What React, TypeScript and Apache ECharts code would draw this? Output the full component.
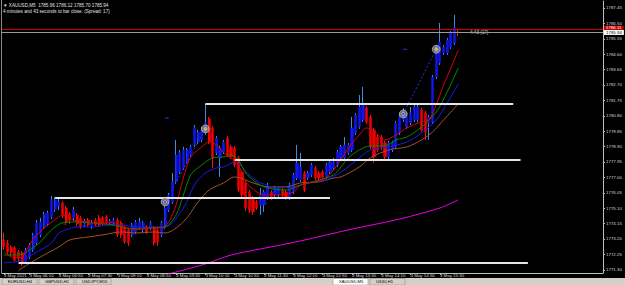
import React, { useEffect, useRef } from "react";
import * as echarts from "echarts";

// ---------- data ----------
const timeLabels = [
  "3 May 2021", "3 May 06:10", "3 May 06:50", "3 May 07:30", "3 May 08:10", "3 May 08:50",
  "3 May 09:30", "3 May 10:10", "3 May 10:50", "3 May 11:30", "3 May 12:10", "3 May 12:50",
  "3 May 13:30", "3 May 14:10", "3 May 14:50", "3 May 15:30",
];
const labelSlots = [0, 7, 15, 23, 31, 39, 47, 55, 63, 71, 79, 87, 95, 103, 111, 119];
const slotCount = 164;

const priceTicks = [
  1771.3, 1772.25, 1773.2, 1774.15, 1775.1, 1776.05, 1777.0, 1777.95, 1778.9,
  1779.85, 1780.8, 1781.75, 1782.7, 1783.65, 1784.6, 1785.55, 1786.5, 1787.45,
];

const opens = [
  1773.14, 1772.95, 1772.71, 1772.65, 1772.40, 1772.34, 1771.78, 1772.09, 1772.52, 1772.95,
  1773.45, 1773.94, 1774.13, 1774.56, 1774.99, 1775.24, 1775.42, 1775.11, 1774.74, 1774.50,
  1774.68, 1774.50, 1774.06, 1774.37, 1773.94, 1774.37, 1774.50, 1774.50, 1774.56, 1774.19,
  1774.19, 1774.37, 1774.19, 1773.88, 1773.76, 1773.45, 1773.63, 1773.88, 1773.76, 1773.94,
  1773.88, 1773.88, 1773.76, 1773.45, 1773.94, 1774.99, 1775.48, 1776.72, 1777.33, 1777.58,
  1777.95, 1778.38, 1779.00, 1779.18, 1779.31, 1779.74, 1780.60, 1780.05, 1778.51, 1778.20,
  1778.57, 1779.43, 1778.88, 1778.81, 1778.20, 1777.33, 1776.66, 1776.10, 1775.73, 1775.48,
  1775.30, 1775.30, 1775.73, 1776.10, 1775.91, 1775.97, 1776.22, 1776.10, 1775.73, 1776.10,
  1776.96, 1776.84, 1777.27, 1776.96, 1777.15, 1777.58, 1777.27, 1777.33, 1777.03, 1777.33,
  1777.58, 1777.77, 1778.20, 1778.20, 1778.51, 1778.69, 1779.74, 1780.11, 1780.54, 1781.28,
  1780.73, 1779.92, 1779.49, 1779.49, 1779.12, 1778.26, 1778.69, 1778.88, 1779.74, 1780.54,
  1780.11, 1780.36, 1780.54, 1780.54, 1781.16, 1780.97, 1780.36, 1780.42, 1783.19, 1784.06,
  1784.67, 1784.67, 1785.04, 1785.29, 1785.96,
];
const closes = [
  1772.71, 1772.40, 1772.34, 1771.90, 1772.03, 1771.72, 1772.52, 1772.83, 1773.45, 1774.19,
  1774.25, 1774.74, 1774.80, 1775.61, 1775.61, 1775.48, 1774.68, 1774.25, 1774.37, 1774.99,
  1774.13, 1773.94, 1774.31, 1774.06, 1774.25, 1774.06, 1774.06, 1774.19, 1774.25, 1774.31,
  1774.37, 1773.45, 1773.45, 1773.02, 1772.95, 1774.06, 1774.25, 1774.25, 1774.19, 1773.63,
  1774.19, 1772.95, 1773.02, 1774.19, 1775.11, 1775.91, 1776.72, 1778.38, 1778.51, 1778.69,
  1778.69, 1778.88, 1780.05, 1779.80, 1779.92, 1780.36, 1779.18, 1778.20, 1779.43, 1778.81,
  1779.18, 1778.38, 1778.26, 1777.77, 1776.22, 1775.91, 1775.11, 1774.99, 1774.87, 1775.11,
  1775.91, 1776.10, 1776.53, 1775.73, 1776.35, 1776.29, 1775.91, 1775.73, 1776.53, 1777.15,
  1777.89, 1777.64, 1776.22, 1777.27, 1777.77, 1776.96, 1776.96, 1777.03, 1777.77, 1777.95,
  1777.95, 1778.57, 1778.88, 1779.00, 1779.00, 1780.05, 1780.85, 1781.34, 1781.47, 1780.42,
  1778.88, 1778.26, 1778.69, 1778.88, 1778.26, 1779.12, 1779.12, 1780.36, 1780.73, 1780.97,
  1780.73, 1780.97, 1781.34, 1781.34, 1779.92, 1779.80, 1780.73, 1783.19, 1785.04, 1785.35,
  1785.04, 1785.48, 1785.91, 1786.22, 1785.94,
];
const lows = [
  1772.52, 1772.28, 1772.09, 1771.78, 1771.84, 1771.54, 1771.66, 1771.97, 1772.40, 1772.83,
  1773.32, 1773.82, 1774.00, 1774.43, 1774.87, 1774.99, 1774.50, 1774.06, 1774.13, 1774.31,
  1774.00, 1773.82, 1773.94, 1773.94, 1773.82, 1774.00, 1773.94, 1774.06, 1774.13, 1774.06,
  1774.06, 1773.32, 1773.26, 1772.89, 1772.77, 1773.32, 1773.51, 1773.76, 1773.63, 1773.51,
  1773.76, 1772.83, 1772.77, 1773.32, 1773.82, 1774.87, 1775.36, 1776.59, 1777.21, 1777.46,
  1777.83, 1778.26, 1778.88, 1779.06, 1779.18, 1779.62, 1779.06, 1777.58, 1778.38, 1777.03,
  1778.44, 1778.26, 1778.14, 1777.64, 1776.10, 1775.73, 1774.93, 1774.80, 1774.68, 1774.99,
  1774.68, 1774.87, 1775.61, 1775.61, 1775.79, 1775.79, 1775.79, 1775.61, 1775.61, 1775.97,
  1776.84, 1776.72, 1776.10, 1776.84, 1777.03, 1776.84, 1776.84, 1776.90, 1776.90, 1777.21,
  1777.46, 1777.64, 1778.07, 1778.07, 1778.38, 1778.57, 1779.62, 1779.99, 1780.42, 1780.29,
  1778.75, 1777.89, 1778.57, 1778.69, 1778.07, 1778.07, 1778.57, 1778.75, 1779.62, 1780.42,
  1779.99, 1780.23, 1780.42, 1780.42, 1779.80, 1779.31, 1779.31, 1780.29, 1783.07, 1783.93,
  1784.55, 1784.55, 1784.92, 1785.17, 1785.70,
];
const highs = [
  1773.57, 1773.14, 1772.83, 1772.77, 1772.52, 1772.46, 1772.65, 1772.95, 1773.57, 1774.37,
  1774.50, 1774.87, 1774.93, 1775.85, 1775.79, 1775.67, 1775.54, 1775.24, 1774.87, 1775.17,
  1774.80, 1774.62, 1774.43, 1774.50, 1774.37, 1774.50, 1774.68, 1774.62, 1774.68, 1774.43,
  1774.50, 1774.50, 1774.31, 1774.00, 1773.88, 1774.19, 1774.37, 1774.50, 1774.31, 1774.06,
  1774.31, 1774.00, 1773.88, 1774.31, 1775.24, 1776.04, 1777.27, 1779.31, 1778.69, 1778.88,
  1778.81, 1779.00, 1780.23, 1779.92, 1780.11, 1781.53, 1780.73, 1780.17, 1779.55, 1778.94,
  1779.31, 1779.55, 1779.00, 1778.94, 1778.32, 1777.46, 1776.78, 1776.22, 1775.85, 1775.61,
  1776.35, 1776.22, 1776.66, 1776.22, 1776.47, 1776.41, 1776.35, 1776.22, 1776.66, 1777.27,
  1779.00, 1778.51, 1777.39, 1777.39, 1777.89, 1777.70, 1777.39, 1777.46, 1777.89, 1778.07,
  1778.20, 1778.69, 1779.00, 1779.49, 1779.12, 1780.73, 1780.97, 1782.08, 1782.58, 1781.40,
  1780.85, 1780.05, 1779.62, 1779.62, 1779.25, 1779.25, 1779.25, 1780.48, 1780.85, 1781.28,
  1780.85, 1781.34, 1781.47, 1781.59, 1781.28, 1781.10, 1780.85, 1783.32, 1785.17, 1786.53,
  1785.17, 1785.60, 1786.03, 1787.02, 1786.12,
];

// moving averages: [bar index, price]
const maRed: [number, number][] = [
  [0, 1772.40], [3, 1772.03], [5, 1772.09], [7, 1772.83], [9, 1773.45], [12, 1774.06],
  [15, 1774.56], [16, 1774.68], [19, 1774.37], [23, 1774.25], [26, 1774.19], [30, 1774.19],
  [32, 1774.00], [36, 1773.76], [39, 1773.88], [43, 1773.88], [45, 1774.25], [47, 1775.30],
  [49, 1776.96], [51, 1778.26], [54, 1778.88], [56, 1779.18], [58, 1779.00], [60, 1778.51],
  [62, 1778.20], [64, 1777.77], [66, 1776.72], [69, 1776.10], [71, 1775.91], [75, 1775.91],
  [79, 1776.10], [81, 1776.53], [85, 1776.72], [88, 1776.96], [92, 1778.07], [94, 1778.81],
  [97, 1779.62], [99, 1780.05], [101, 1779.86], [104, 1779.31], [107, 1779.62], [110, 1780.05],
  [114, 1780.42], [116, 1780.54], [118, 1781.47], [120, 1782.70], [122, 1783.75], [124, 1784.86],
];
const maGreen: [number, number][] = [
  [0, 1772.21], [4, 1772.21], [7, 1772.52], [10, 1773.02], [13, 1773.76], [16, 1774.19],
  [20, 1774.25], [24, 1774.19], [30, 1774.06], [32, 1773.94], [36, 1773.82], [39, 1773.88],
  [44, 1773.94], [47, 1774.68], [49, 1775.91], [51, 1777.15], [54, 1777.77], [57, 1778.20],
  [60, 1778.26], [62, 1778.38], [64, 1778.07], [66, 1777.27], [69, 1776.66], [72, 1776.35],
  [77, 1776.22], [81, 1776.53], [86, 1776.84], [90, 1777.15], [92, 1777.64], [94, 1778.20],
  [97, 1778.69], [100, 1778.94], [104, 1778.94], [107, 1779.31], [110, 1779.49], [114, 1780.11],
  [118, 1781.03], [121, 1782.27], [124, 1783.75],
];
const maBlue: [number, number][] = [
  [0, 1771.72], [3, 1771.78], [5, 1771.90], [9, 1772.40], [13, 1772.95], [15, 1773.57],
  [17, 1773.76], [20, 1773.94], [24, 1773.94], [29, 1774.06], [32, 1774.06], [36, 1773.94],
  [41, 1773.94], [44, 1773.94], [49, 1775.11], [52, 1776.53], [55, 1777.27], [58, 1777.58],
  [60, 1777.64], [63, 1777.95], [67, 1777.15], [70, 1776.66], [75, 1776.35], [79, 1776.41],
  [83, 1776.66], [88, 1776.84], [92, 1777.33], [97, 1778.20], [100, 1778.69], [105, 1778.88],
  [110, 1779.18], [114, 1779.74], [118, 1780.54], [121, 1781.59], [124, 1782.76],
];
const maBrown: [number, number][] = [
  [4, 1771.23], [5, 1771.41], [10, 1772.09], [15, 1772.71], [18, 1773.14], [23, 1773.32],
  [27, 1773.45], [32, 1773.63], [36, 1773.57], [41, 1773.63], [44, 1773.57], [49, 1774.25],
  [53, 1775.48], [56, 1776.22], [60, 1776.66], [63, 1777.03], [68, 1776.66], [72, 1776.41],
  [77, 1776.41], [81, 1776.66], [86, 1776.72], [90, 1776.96], [92, 1777.03], [97, 1777.64],
  [100, 1778.20], [105, 1778.69], [110, 1778.88], [114, 1779.31], [117, 1779.80], [120, 1780.54],
  [124, 1781.53],
];
const maMagenta: [number, number][] = [
  [45, 1771.07], [47, 1771.16], [55, 1771.66], [62, 1772.21], [70, 1772.58], [81, 1773.08],
  [94, 1773.76], [108, 1774.43], [119, 1775.11], [124, 1775.61],
];

// horizontal levels drawn on the chart: price, first bar, last bar
const levels = [
  { price: 1781.53, from: 55, to: 139 },
  { price: 1778.07, from: 63, to: 141 },
  { price: 1775.73, from: 14, to: 89 },
  { price: 1771.72, from: 4, to: 143 },
];
// trade arrows: open point -> close point
const trades = [
  { open: [44, 1775.49], close: [55, 1779.99] },
  { open: [109, 1780.91], close: [118, 1784.9] },
];
const tradeMarks = [
  { at: [44, 1780.66], to: 45 },
  { at: [109, 1784.9], to: 110 },
];

const bidPrice = 1785.94;
const askPrice = 1786.11;
const headerLine1 = "▼ XAUUSD,M5  1785.96 1786.12 1785.70 1785.94";
const headerLine2 = "4 minutes and 43 seconds to bar close. (Spread: 17)";
const timerText = "4:43 (17)";
const tabNames = ["EURUSD,H4", "GBPUSD,H1", "USDJPY,M15", "XAUUSD,M5", "US30,H1"];

const FONT = "Liberation Sans";

export default function App() {
  const ref = useRef<HTMLDivElement>(null);
  useEffect(() => {
    if (!ref.current) return;
    document.body.style.margin = "0";
    const chart = echarts.init(ref.current, null, { renderer: "svg" });

    const slots = Array.from({ length: slotCount }, (_, i) => String(i));
    const labelMap: Record<number, string> = {};
    labelSlots.forEach((s, k) => (labelMap[s] = timeLabels[k]));

    const wickData = opens.map((o, i) => [o, closes[i], lows[i], highs[i]]);
    const bodyData = opens.map((o, i) => [
      o, closes[i], Math.min(o, closes[i]), Math.max(o, closes[i]),
    ]);

    const lineSeries = (data: [number, number][], color: string, w = 1) => ({
      type: "line",
      data,
      showSymbol: false,
      smooth: 0.3,
      silent: true,
      lineStyle: { color, width: w },
      z: 3,
    });

    const levelSeries = levels.map((l) => ({
      type: "line",
      data: [[l.from, l.price], [l.to, l.price]],
      showSymbol: false,
      silent: true,
      lineStyle: { color: "#e6e6e6", width: 2 },
      z: 5,
    }));
    const tradeSeries = trades.map((t) => ({
      type: "line",
      data: [t.open, t.close],
      showSymbol: false,
      silent: true,
      lineStyle: { color: "#2233e0", width: 1, type: [2, 2] },
      z: 4,
    }));
    const markSeries = tradeMarks.map((m) => ({
      type: "line",
      data: [m.at, [m.to, m.at[1]]],
      showSymbol: false,
      silent: true,
      lineStyle: { color: "#2a3aee", width: 1 },
      z: 4,
    }));

    chart.setOption({
      animation: false,
      backgroundColor: "#000000",
      textStyle: { fontFamily: FONT },
      grid: { left: 2, right: 22, top: 1, bottom: 12, outerBoundsMode: "none" },
      xAxis: {
        type: "category",
        data: slots,
        boundaryGap: true,
        axisLine: { lineStyle: { color: "#bdbdbd", width: 1 } },
        axisTick: {
          show: true,
          alignWithLabel: true,
          length: 2,
          interval: (i: number) => labelMap[i] !== undefined,
          lineStyle: { color: "#bdbdbd" },
        },
        axisLabel: {
          interval: (i: number) => labelMap[i] !== undefined,
          formatter: (_v: string, i: number) => labelMap[i] ?? "",
          color: "#d8d8d8",
          fontSize: 4.4,
          fontFamily: FONT,
          align: "left",
          margin: 0.5,
        },
        splitLine: { show: false },
      },
      yAxis: {
        type: "value",
        position: "right",
        min: 1771.1,
        max: 1787.88,
        axisLine: { show: true, lineStyle: { color: "#bdbdbd", width: 1 } },
        axisTick: { show: true, length: 2, customValues: priceTicks, lineStyle: { color: "#bdbdbd" } },
        axisLabel: {
          customValues: priceTicks,
          formatter: (v: number) => v.toFixed(2),
          color: "#d8d8d8",
          fontSize: 4.4,
          fontFamily: FONT,
          margin: 3,
        },
        splitLine: { show: false },
      },
      series: [
        {
          type: "candlestick",
          data: wickData,
          barWidth: 1,
          silent: true,
          itemStyle: {
            color: "#3a8fe0",
            color0: "#ff1010",
            borderColor: "#3a8fe0",
            borderColor0: "#ff1010",
            borderWidth: 1,
          },
          z: 1,
        },
        {
          type: "candlestick",
          data: bodyData,
          barWidth: 2.6,
          silent: true,
          itemStyle: {
            color: "#1016ee",
            color0: "#f00000",
            borderColor: "#1016ee",
            borderColor0: "#f00000",
            borderWidth: 0.5,
          },
          z: 2,
          markLine: {
            symbol: "none",
            silent: true,
            data: [
              {
                yAxis: askPrice,
                lineStyle: { color: "#d00000", width: 1, type: "solid" },
                label: {
                  position: "end",
                  distance: 1,
                  formatter: () => askPrice.toFixed(2),
                  color: "#ffffff",
                  backgroundColor: "#d00000",
                  fontSize: 4.4,
                  fontFamily: FONT,
                  padding: [0, 2],
                  offset: [0, -2],
                },
              },
              {
                yAxis: bidPrice,
                lineStyle: { color: "#9a9a9a", width: 1, type: "solid" },
                label: {
                  position: "end",
                  distance: 1,
                  formatter: () => bidPrice.toFixed(2),
                  color: "#000000",
                  backgroundColor: "#ffffff",
                  fontSize: 4.4,
                  fontFamily: FONT,
                  padding: [0.5, 2],
                },
              },
            ],
          },
        },
        lineSeries(maMagenta, "#e800e8"),
        lineSeries(maBrown, "#a0522d"),
        lineSeries(maBlue, "#1a1af0"),
        lineSeries(maGreen, "#008a00"),
        lineSeries(maRed, "#e00000"),
        ...levelSeries,
        ...tradeSeries,
        ...markSeries,
        {
          type: "scatter",
          data: [...trades.map((t) => t.open), ...trades.map((t) => t.close)],
          symbol: "circle",
          symbolSize: 8,
          silent: true,
          itemStyle: { color: "#8c8c8c", borderColor: "#c8c8c8", borderWidth: 0.8 },
          z: 6,
        },
        {
          type: "scatter",
          data: trades.map((t) => t.open),
          symbol: "circle",
          symbolSize: 3,
          silent: true,
          itemStyle: { color: "#2a4bff", borderColor: "#ffffff", borderWidth: 0.5 },
          z: 7,
        },
        {
          type: "scatter",
          data: trades.map((t) => t.close),
          symbol: "circle",
          symbolSize: 3,
          silent: true,
          itemStyle: { color: "#e8b020", borderColor: "#ffffff", borderWidth: 0.5 },
          z: 7,
        },
      ],
      graphic: [
        {
          type: "line",
          shape: { x1: 1.5, y1: 0, x2: 1.5, y2: 273 },
          style: { stroke: "#8a8a8a", lineWidth: 1 },
        },
        {
          type: "text",
          left: 3,
          top: 2.5,
          style: { text: headerLine1, fill: "#e0e0e0", fontSize: 4.6, fontFamily: FONT },
        },
        {
          type: "text",
          left: 3,
          top: 9,
          style: { text: headerLine2, fill: "#e0e0e0", fontSize: 4.6, fontFamily: FONT },
        },
        {
          type: "text",
          left: 470,
          top: 30,
          style: { text: timerText, fill: "#d0d0d0", fontSize: 4.6, fontFamily: FONT },
        },
        {
          type: "rect",
          shape: { x: 0, y: 278, width: 625, height: 7 },
          style: { fill: "#d4d0c8" },
        },
        ...tabNames.map((name, k) => ({
          type: "group",
          x: 2 + k * 37 + (k >= 3 ? 220 : 0),
          y: 278.5,
          children: [
            {
              type: "rect",
              shape: { x: 0, y: 0, width: 35, height: 6.5 },
              style: { fill: k === 3 ? "#ffffff" : "#d4d0c8", stroke: "#808080", lineWidth: 0.5 },
            },
            {
              type: "text",
              x: 6,
              y: 1.2,
              style: { text: name, fill: "#000000", fontSize: 4.2, fontFamily: FONT },
            },
          ],
        })),
      ],
    });
    return () => chart.dispose();
  }, []);
  return (
    <div
      ref={ref}
      style={{ position: "absolute", left: 0, top: 0, width: 625, height: 285 }}
    />
  );
}
